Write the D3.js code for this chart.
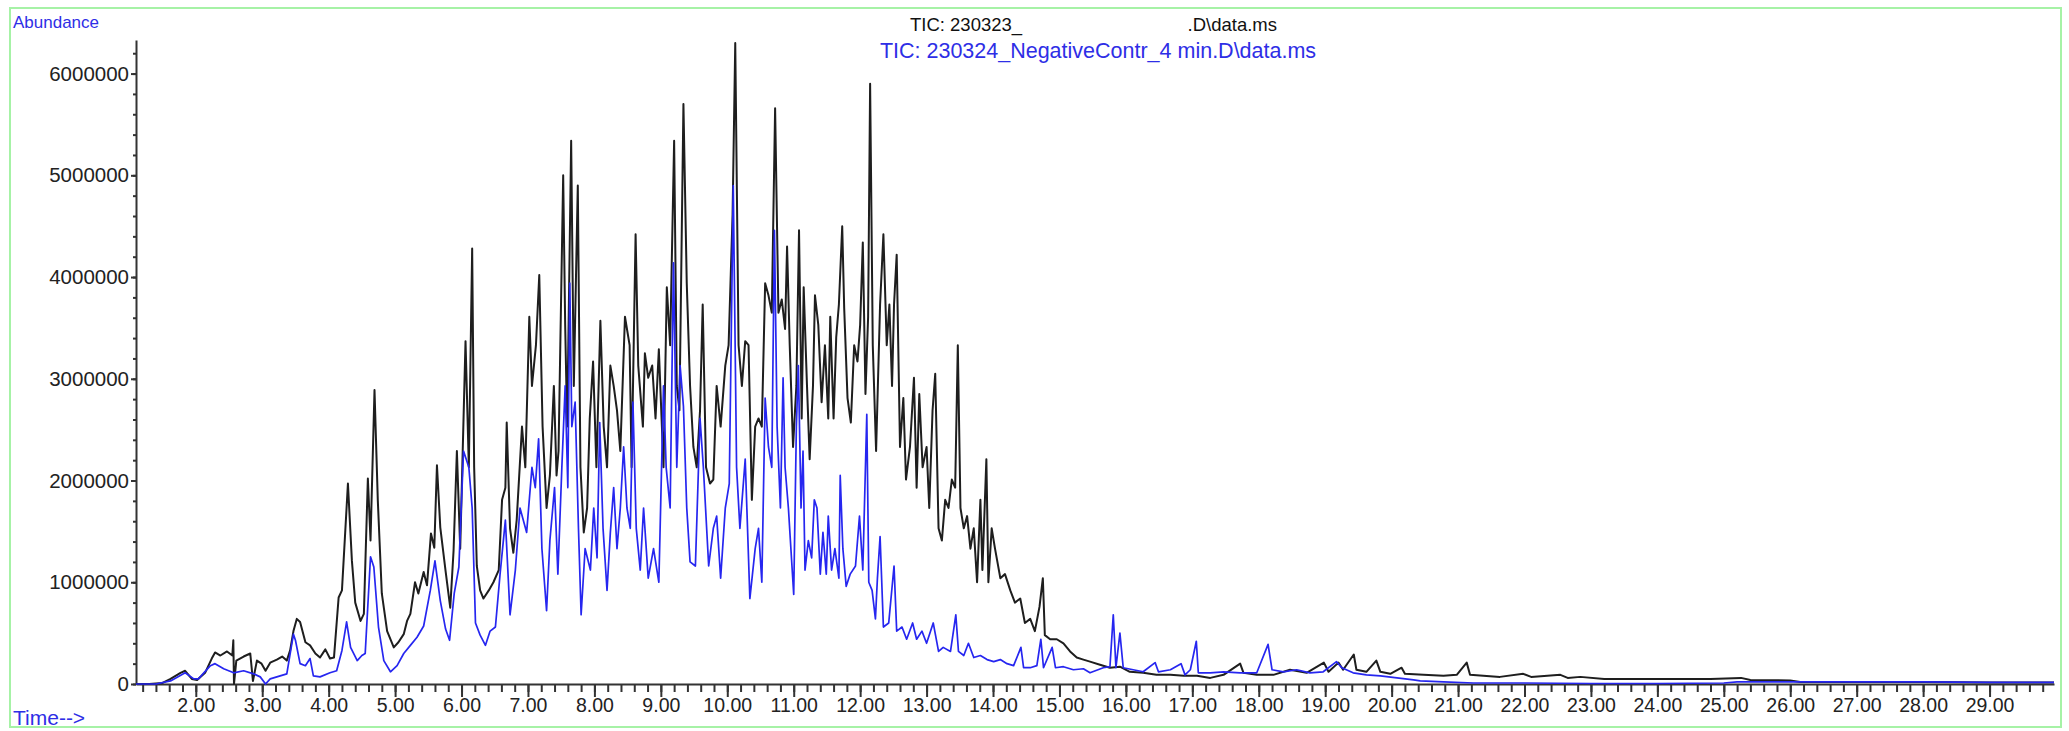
<!DOCTYPE html>
<html lang="en">
<head>
  <meta charset="UTF-8">
  <title>TIC chromatogram overlay</title>
  <script src="https://d3js.org/d3.v7.min.js"></script>
  <style>
    html, body {
      margin: 0;
      padding: 0;
      background: #fff;
    }
    svg {
      display: block;
      font-family: "Liberation Sans", Arial, sans-serif;
    }
    .axis path, .axis line {
      stroke: #333;
      stroke-width: 2;
    }
    .axis text {
      fill: #222;
    }
    .trace {
      fill: none;
      stroke-linejoin: round;
    }
  </style>
</head>
<body>
  <svg width="2069" height="731"></svg>
  <script>
    // axis extents and ticks
    const timeRange = [1.10, 29.97];
    const abundanceMax = 6330000;
    const yTicks = [0, 1000000, 2000000, 3000000, 4000000, 5000000, 6000000];
    const xTicks = [2, 3, 4, 5, 6, 7, 8, 9, 10, 11, 12, 13, 14, 15, 16, 17, 18, 19, 20, 21, 22, 23, 24, 25, 26, 27, 28, 29];

    const titleSample = ["TIC: 230323_", ".D\\data.ms"];
    const titleControl = "TIC: 230324_NegativeContr_4 min.D\\data.ms";

    // [time (min), abundance (millions)]
    const sampleTrace = [
      [1.10,0],[1.30,0],[1.50,0.01],[1.62,0.05],[1.77,0.11],[1.84,0.13],[1.94,0.05],[2.02,0.04],[2.14,0.11],[2.24,0.25],
      [2.29,0.31],[2.37,0.28],[2.47,0.32],[2.55,0.28],[2.565,0.43],[2.575,0.0],[2.61,0.23],[2.72,0.27],[2.82,0.30],[2.86,0.03],
      [2.92,0.23],[2.99,0.20],[3.05,0.13],[3.12,0.21],[3.22,0.24],[3.30,0.27],[3.37,0.23],[3.42,0.33],[3.47,0.52],[3.52,0.64],
      [3.57,0.61],[3.65,0.41],[3.72,0.38],[3.80,0.30],[3.87,0.26],[3.95,0.34],[4.02,0.25],[4.08,0.26],[4.15,0.85],[4.20,0.92],
      [4.29,1.97],[4.35,1.21],[4.40,0.80],[4.48,0.62],[4.53,0.69],[4.59,2.02],[4.63,1.41],[4.69,2.89],[4.74,1.80],[4.80,0.89],
      [4.88,0.52],[4.98,0.36],[5.05,0.41],[5.13,0.49],[5.18,0.62],[5.23,0.69],[5.30,1.00],[5.35,0.89],[5.43,1.10],[5.48,0.97],
      [5.54,1.48],[5.59,1.34],[5.63,2.15],[5.68,1.54],[5.76,1.11],[5.83,0.75],[5.88,1.31],[5.93,2.29],[5.98,1.33],[6.06,3.37],
      [6.11,2.13],[6.16,4.28],[6.19,2.13],[6.23,1.16],[6.28,0.92],[6.33,0.84],[6.41,0.92],[6.48,1.00],[6.56,1.12],[6.61,1.81],
      [6.66,1.93],[6.68,2.57],[6.73,1.53],[6.78,1.29],[6.83,1.61],[6.91,2.53],[6.96,2.13],[7.02,3.61],[7.06,2.93],[7.12,3.33],
      [7.17,4.02],[7.22,2.53],[7.28,1.73],[7.33,2.05],[7.39,2.93],[7.43,2.05],[7.46,2.29],[7.53,5.00],[7.56,3.53],[7.59,2.53],
      [7.65,5.34],[7.69,2.93],[7.75,4.90],[7.79,2.13],[7.84,1.49],[7.89,1.73],[7.93,2.61],[7.98,3.17],[8.03,2.13],[8.09,3.57],
      [8.14,2.53],[8.19,2.13],[8.24,3.13],[8.29,2.93],[8.34,2.69],[8.39,2.29],[8.46,3.61],[8.53,3.33],[8.56,2.13],[8.62,4.42],
      [8.66,3.13],[8.73,2.53],[8.76,3.25],[8.81,3.01],[8.87,3.13],[8.92,2.61],[8.97,3.29],[9.04,2.13],[9.09,3.90],[9.14,3.33],
      [9.20,5.34],[9.24,2.93],[9.28,2.69],[9.34,5.70],[9.39,3.94],[9.44,2.93],[9.49,2.33],[9.54,2.13],[9.59,2.69],[9.63,3.73],
      [9.68,2.13],[9.74,1.97],[9.79,2.01],[9.84,2.93],[9.90,2.53],[9.97,3.13],[10.02,3.33],[10.08,4.62],[10.12,6.30],[10.17,3.33],
      [10.22,2.93],[10.27,3.37],[10.32,3.33],[10.37,1.81],[10.42,2.53],[10.47,2.61],[10.52,2.53],[10.57,3.94],[10.62,3.82],[10.67,3.65],
      [10.72,5.66],[10.77,3.65],[10.82,3.78],[10.87,3.49],[10.90,4.30],[10.94,3.33],[10.99,2.33],[11.04,2.93],[11.08,4.46],[11.12,2.61],
      [11.15,3.90],[11.20,2.93],[11.24,2.21],[11.29,2.93],[11.32,3.82],[11.37,3.53],[11.42,2.77],[11.47,3.33],[11.52,2.61],[11.55,3.61],
      [11.60,2.61],[11.64,3.41],[11.68,3.73],[11.73,4.50],[11.76,3.69],[11.81,2.81],[11.86,2.57],[11.91,3.33],[11.96,3.17],[12.00,3.53],
      [12.04,4.34],[12.08,2.85],[12.12,3.61],[12.15,5.90],[12.19,3.33],[12.24,2.29],[12.30,3.73],[12.35,4.42],[12.40,3.33],[12.44,3.73],
      [12.48,2.93],[12.51,3.73],[12.55,4.22],[12.60,2.33],[12.65,2.81],[12.69,2.01],[12.75,2.33],[12.81,3.01],[12.85,1.93],[12.89,2.85],
      [12.94,2.13],[13.00,2.33],[13.04,1.73],[13.09,2.69],[13.13,3.05],[13.18,1.53],[13.23,1.41],[13.28,1.81],[13.33,1.73],[13.38,2.01],
      [13.43,1.93],[13.47,3.33],[13.51,1.73],[13.56,1.53],[13.61,1.65],[13.66,1.33],[13.71,1.53],[13.76,1.00],[13.81,1.81],[13.84,1.12],
      [13.90,2.21],[13.93,1.00],[13.98,1.53],[14.03,1.33],[14.11,1.04],[14.18,1.08],[14.26,0.92],[14.33,0.80],[14.41,0.84],[14.48,0.60],
      [14.56,0.64],[14.63,0.52],[14.70,0.76],[14.75,1.04],[14.78,0.48],[14.86,0.44],[14.96,0.44],[15.06,0.40],[15.16,0.32],[15.26,0.26],
      [15.36,0.24],[15.46,0.22],[15.61,0.19],[15.76,0.16],[15.91,0.17],[16.06,0.12],[16.26,0.11],[16.46,0.09],[16.67,0.09],[16.87,0.08],
      [17.07,0.08],[17.27,0.06],[17.47,0.09],[17.72,0.20],[17.77,0.11],[17.97,0.09],[18.22,0.09],[18.47,0.14],[18.72,0.11],[18.98,0.21],
      [19.05,0.12],[19.20,0.21],[19.27,0.14],[19.43,0.29],[19.47,0.14],[19.62,0.12],[19.77,0.23],[19.83,0.12],[19.98,0.10],[20.15,0.16],
      [20.20,0.10],[20.48,0.09],[20.78,0.08],[20.98,0.09],[21.13,0.21],[21.18,0.09],[21.38,0.08],[21.63,0.07],[21.98,0.10],[22.10,0.07],
      [22.54,0.09],[22.65,0.06],[22.84,0.07],[23.20,0.05],[23.80,0.05],[24.50,0.05],[24.80,0.05],[25.26,0.06],[25.40,0.04],[26.00,0.035],
      [26.15,0.02],[27.00,0.02],[28.00,0.02],[29.00,0.015],[29.97,0.015]
    ];

    const controlTrace = [
      [1.10,0],[1.40,0],[1.62,0.03],[1.84,0.11],[1.97,0.05],[2.04,0.05],[2.22,0.18],[2.29,0.20],[2.42,0.15],[2.57,0.11],
      [2.72,0.13],[2.87,0.10],[2.97,0.07],[3.05,0.0],[3.12,0.05],[3.27,0.08],[3.37,0.10],[3.47,0.49],[3.50,0.43],[3.57,0.20],
      [3.65,0.18],[3.72,0.25],[3.77,0.08],[3.87,0.07],[4.02,0.11],[4.12,0.13],[4.20,0.33],[4.27,0.61],[4.33,0.36],[4.43,0.23],
      [4.50,0.28],[4.55,0.30],[4.63,1.25],[4.68,1.15],[4.75,0.56],[4.83,0.23],[4.93,0.12],[5.03,0.18],[5.13,0.30],[5.23,0.38],
      [5.33,0.46],[5.43,0.57],[5.53,0.92],[5.60,1.21],[5.68,0.82],[5.76,0.54],[5.82,0.43],[5.89,0.89],[5.96,1.15],[6.03,2.29],
      [6.11,2.13],[6.16,1.73],[6.21,0.60],[6.28,0.48],[6.36,0.38],[6.43,0.52],[6.51,0.56],[6.58,1.08],[6.66,1.61],[6.73,0.68],
      [6.81,1.12],[6.88,1.73],[6.98,1.49],[7.06,2.13],[7.11,1.93],[7.16,2.41],[7.21,1.33],[7.28,0.72],[7.33,1.41],[7.40,1.93],
      [7.45,1.08],[7.51,2.13],[7.56,2.93],[7.60,1.93],[7.63,3.94],[7.66,2.53],[7.71,2.77],[7.76,1.53],[7.80,0.68],[7.86,1.33],
      [7.94,1.12],[7.99,1.73],[8.04,1.24],[8.08,2.57],[8.13,1.53],[8.19,0.92],[8.24,1.49],[8.29,1.93],[8.34,1.33],[8.39,1.73],
      [8.44,2.33],[8.49,1.73],[8.54,1.53],[8.58,2.77],[8.63,1.53],[8.69,1.12],[8.74,1.73],[8.81,1.04],[8.89,1.33],[8.97,1.00],
      [9.04,2.93],[9.08,2.13],[9.14,1.73],[9.19,4.14],[9.24,2.13],[9.29,3.13],[9.34,2.73],[9.39,1.73],[9.44,1.20],[9.52,1.16],
      [9.59,2.61],[9.64,2.13],[9.72,1.16],[9.79,1.53],[9.84,1.65],[9.90,1.04],[9.97,1.73],[10.03,1.97],[10.09,4.90],[10.14,2.13],
      [10.19,1.53],[10.27,2.21],[10.34,0.84],[10.42,1.33],[10.47,1.53],[10.52,1.00],[10.57,2.81],[10.62,2.33],[10.67,2.13],[10.71,4.46],
      [10.75,2.53],[10.80,1.73],[10.84,3.01],[10.87,2.13],[10.92,1.73],[10.95,1.41],[11.00,0.88],[11.04,2.53],[11.07,3.13],[11.11,1.73],
      [11.14,2.29],[11.17,1.12],[11.22,1.41],[11.27,1.24],[11.31,1.81],[11.35,1.73],[11.40,1.08],[11.44,1.49],[11.49,1.08],[11.52,1.65],
      [11.57,1.12],[11.62,1.33],[11.68,1.04],[11.70,2.05],[11.74,1.33],[11.79,0.96],[11.85,1.08],[11.93,1.16],[11.99,1.65],[12.04,1.12],
      [12.10,2.65],[12.13,1.00],[12.18,0.92],[12.23,0.64],[12.26,1.04],[12.30,1.45],[12.35,0.56],[12.43,0.60],[12.51,1.16],[12.55,0.52],
      [12.63,0.56],[12.70,0.44],[12.79,0.60],[12.85,0.44],[12.93,0.52],[13.00,0.40],[13.10,0.60],[13.18,0.32],[13.25,0.36],[13.36,0.32],
      [13.44,0.68],[13.48,0.32],[13.56,0.28],[13.63,0.40],[13.71,0.26],[13.81,0.28],[13.91,0.24],[14.01,0.22],[14.11,0.24],[14.21,0.20],
      [14.31,0.18],[14.42,0.36],[14.46,0.16],[14.56,0.16],[14.66,0.18],[14.72,0.44],[14.76,0.16],[14.89,0.36],[14.94,0.16],[15.06,0.17],
      [15.21,0.14],[15.36,0.15],[15.46,0.11],[15.66,0.16],[15.76,0.17],[15.81,0.68],[15.85,0.16],[15.91,0.50],[15.96,0.16],[16.11,0.14],
      [16.26,0.12],[16.44,0.21],[16.49,0.12],[16.67,0.14],[16.83,0.20],[16.89,0.09],[16.97,0.14],[17.06,0.42],[17.09,0.11],[17.27,0.11],
      [17.47,0.12],[17.72,0.11],[17.97,0.11],[18.14,0.39],[18.20,0.14],[18.37,0.12],[18.57,0.14],[18.77,0.11],[18.97,0.12],[19.17,0.22],
      [19.25,0.16],[19.42,0.11],[19.62,0.09],[19.83,0.08],[20.08,0.06],[20.33,0.04],[20.43,0.03],[20.78,0.02],[21.23,0.01],[21.78,0.01],
      [22.00,0.01],[23.00,0.005],[24.00,0.005],[25.00,0.01],[25.20,0.02],[26.00,0.02],[27.00,0.02],[28.00,0.02],[29.00,0.015],[29.97,0.015]
    ];

    const svg = d3.select("svg");
    const plot = {left: 136, right: 2054, top: 40, bottom: 684};

    const x = d3.scaleLinear().domain(timeRange).range([plot.left, plot.right]);
    const y = d3.scaleLinear().domain([0, abundanceMax]).range([plot.bottom, plot.top]);

    svg.append("rect")
      .attr("width", 2069).attr("height", 731)
      .attr("fill", "#fff");

    // green frame
    svg.append("rect")
      .attr("x", 10).attr("y", 8)
      .attr("width", 2051).attr("height", 719)
      .attr("fill", "none")
      .attr("stroke", "#a6f2a6")
      .attr("stroke-width", 2);

    // minor ticks first
    svg.append("g")
      .attr("class", "axis")
      .attr("transform", `translate(${plot.left},0)`)
      .call(d3.axisLeft(y).tickValues(d3.range(0, abundanceMax, 200000)).tickSize(3).tickFormat(""))
      .call(g => g.select(".domain").remove());

    svg.append("g")
      .attr("class", "axis")
      .attr("transform", `translate(0,${plot.bottom})`)
      .call(d3.axisBottom(x).tickValues(d3.range(1.2, 29.9, 0.2)).tickSize(8).tickFormat(""))
      .call(g => g.select(".domain").remove());

    svg.append("g")
      .attr("class", "axis")
      .attr("transform", `translate(${plot.left},0)`)
      .style("font-size", "20.5px")
      .call(d3.axisLeft(y).tickValues(yTicks).tickSize(5).tickSizeOuter(0).tickPadding(2).tickFormat(d3.format("d")));

    svg.append("g")
      .attr("class", "axis")
      .attr("transform", `translate(0,${plot.bottom})`)
      .style("font-size", "19.5px")
      .call(d3.axisBottom(x).tickValues(xTicks).tickSize(13).tickSizeOuter(0).tickPadding(1).tickFormat(d3.format(".2f")));

    const line = d3.line()
      .x(d => x(d[0]))
      .y(d => y(d[1] * 1e6));

    svg.append("path")
      .datum(sampleTrace)
      .attr("class", "trace")
      .attr("stroke", "#1e1e1e")
      .attr("stroke-width", 2)
      .attr("d", line);

    svg.append("path")
      .datum(controlTrace)
      .attr("class", "trace")
      .attr("stroke", "#2626f0")
      .attr("stroke-width", 1.7)
      .attr("d", line);

    // labels
    svg.append("text")
      .attr("x", 13).attr("y", 28)
      .attr("fill", "#2e2ee6")
      .attr("font-size", 17)
      .text("Abundance");

    svg.append("text")
      .attr("x", 13).attr("y", 725)
      .attr("fill", "#2e2ee6")
      .attr("font-size", 21)
      .text("Time-->");

    svg.append("text")
      .attr("x", 910).attr("y", 31)
      .attr("fill", "#111")
      .attr("font-size", 18.5)
      .text(titleSample[0]);

    svg.append("text")
      .attr("x", 1277).attr("y", 31)
      .attr("text-anchor", "end")
      .attr("fill", "#111")
      .attr("font-size", 18.5)
      .text(titleSample[1]);

    svg.append("text")
      .attr("x", 1098).attr("y", 58)
      .attr("text-anchor", "middle")
      .attr("fill", "#2e2ee6")
      .attr("font-size", 21.5)
      .text(titleControl);
  </script>
</body>
</html>
